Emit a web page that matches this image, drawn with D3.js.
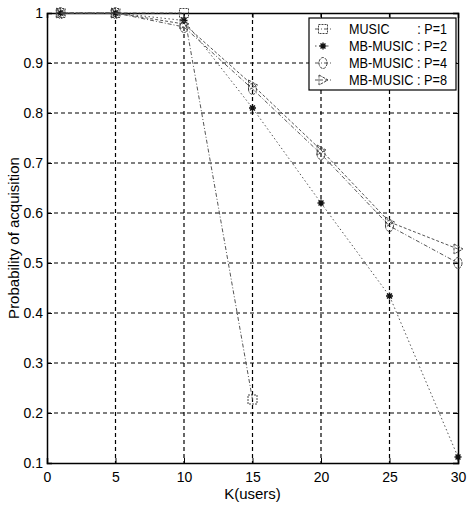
<!DOCTYPE html>
<html><head><meta charset="utf-8">
<script src="https://cdn.jsdelivr.net/npm/d3@7"></script>
<style>
html,body{margin:0;padding:0;background:#fff;}
svg{display:block;}
text{font-family:"Liberation Sans Narrow","Liberation Sans",Arial,sans-serif;fill:#000;}
</style></head>
<body>
<svg id="chart" width="467" height="508"></svg>
<script>
const kValues = [1, 5, 10, 15, 20, 25, 30];
const musicP1 = [1.0, 1.0, 1.0, 0.227];
const mbMusicP2 = [1.0, 1.0, 0.985, 0.81, 0.62, 0.434, 0.112];
const mbMusicP4 = [1.0, 1.0, 0.972, 0.848, 0.718, 0.574, 0.50];
const mbMusicP8 = [1.0, 1.0, 0.978, 0.856, 0.726, 0.582, 0.528];
const xTicks = [0, 5, 10, 15, 20, 25, 30];
const yTicks = [0.1, 0.2, 0.3, 0.4, 0.5, 0.6, 0.7, 0.8, 0.9, 1];
const legendLabels = ["MUSIC\u00a0\u00a0\u00a0\u00a0\u00a0\u00a0\u00a0\u00a0: P=1", "MB-MUSIC : P=2", "MB-MUSIC : P=4", "MB-MUSIC : P=8"];

const svg = d3.select("#chart");
const L = 47, R = 458, T = 13, B = 463;
const x = d3.scaleLinear().domain([0, 30]).range([L, R]);
const y = d3.scaleLinear().domain([0.1, 1]).range([B, T]);

// grid
const g = svg.append("g");
g.selectAll(".vg").data(xTicks.slice(1, -1)).enter().append("line")
  .attr("x1", d => x(d)).attr("x2", d => x(d)).attr("y1", T).attr("y2", B)
  .attr("stroke", "#000").attr("stroke-width", 1.2).attr("stroke-dasharray", "4,3");
g.selectAll(".hg").data(yTicks.slice(1, -1)).enter().append("line")
  .attr("y1", d => y(d)).attr("y2", d => y(d)).attr("x1", L).attr("x2", R)
  .attr("stroke", "#000").attr("stroke-width", 1.2).attr("stroke-dasharray", "4,3");

// axes
const xAxis = d3.axisBottom(x).tickValues(xTicks).tickSize(-5).tickPadding(9).tickFormat(d3.format("d"));
const yAxis = d3.axisLeft(y).tickValues(yTicks).tickSize(-5).tickPadding(4).tickFormat(d => d === 1 ? "1" : d3.format(".1f")(d));
svg.append("g").attr("transform", `translate(0,${B})`).call(xAxis);
svg.append("g").attr("transform", `translate(${L},0)`).call(yAxis);
svg.append("g").attr("transform", `translate(0,${T})`).call(d3.axisTop(x).tickValues(xTicks).tickSize(-5).tickFormat(""));
svg.append("g").attr("transform", `translate(${R},0)`).call(d3.axisRight(y).tickValues(yTicks).tickSize(-5).tickFormat(""));
svg.selectAll(".domain").attr("stroke", "#000").attr("stroke-width", 1.5);
svg.selectAll(".tick line").attr("stroke", "#000");
svg.selectAll(".tick text").style("font-size", "14px").style("font-family", "'Liberation Sans Narrow','Liberation Sans',Arial,sans-serif");

// labels
svg.append("text").attr("x", (L + R) / 2).attr("y", 499).attr("text-anchor", "middle")
  .style("font-size", "15px").text("K(users)");
svg.append("text").attr("transform", `translate(19,${(T + B) / 2}) rotate(-90)`).attr("text-anchor", "middle")
  .style("font-size", "15px").text("Probability of acquisition");

// series
const series = [
  {vals: musicP1, dash: "4,2,1,2", sym: "square"},
  {vals: mbMusicP2, dash: "1.5,2.5", sym: "star"},
  {vals: mbMusicP4, dash: "4,2,1,2", sym: "circle"},
  {vals: mbMusicP8, dash: "3,2", sym: "tri"}
];
function drawMarker(sel, sym, cx, cy) {
  if (sym === "square") {
    sel.append("rect").attr("x", cx - 4.5).attr("y", cy - 4.5).attr("width", 9).attr("height", 9)
      .attr("fill", "none").attr("stroke", "#444").attr("stroke-width", 1).attr("stroke-dasharray", "2,1");
  } else if (sym === "star") {
    const p = d3.path();
    for (let a = 0; a < 4; a++) {
      const ang = a * Math.PI / 4;
      p.moveTo(cx - 3.5 * Math.cos(ang), cy - 3.5 * Math.sin(ang));
      p.lineTo(cx + 3.5 * Math.cos(ang), cy + 3.5 * Math.sin(ang));
    }
    sel.append("path").attr("d", p.toString()).attr("stroke", "#111").attr("stroke-width", 1.4);
  } else if (sym === "circle") {
    sel.append("ellipse").attr("cx", cx).attr("cy", cy).attr("rx", 4).attr("ry", 5.5)
      .attr("fill", "none").attr("stroke", "#444").attr("stroke-width", 1).attr("stroke-dasharray", "3,1");
  } else {
    const p = d3.path();
    p.moveTo(cx - 4, cy - 5); p.lineTo(cx + 5, cy); p.lineTo(cx - 4, cy + 5); p.closePath();
    sel.append("path").attr("d", p.toString()).attr("fill", "none").attr("stroke", "#444")
      .attr("stroke-width", 1).attr("stroke-dasharray", "3,1");
  }
}
const line = d3.line().x(d => x(d[0])).y(d => y(d[1]));
series.forEach(s => {
  const pts = s.vals.map((v, i) => [kValues[i], v]);
  svg.append("path").attr("d", line(pts)).attr("fill", "none").attr("stroke", "#555")
    .attr("stroke-width", 1).attr("stroke-dasharray", s.dash);
  const mg = svg.append("g");
  pts.forEach(p => drawMarker(mg, s.sym, x(p[0]), y(p[1])));
});

// legend
const lx = 309, ly = 18, lw = 147, lh = 72;
svg.append("rect").attr("x", lx).attr("y", ly).attr("width", lw).attr("height", lh)
  .attr("fill", "#fff").attr("stroke", "#000").attr("stroke-width", 1.2);
series.forEach((s, i) => {
  const yy = ly + 11 + i * 17;
  svg.append("line").attr("x1", lx + 6).attr("x2", lx + 22).attr("y1", yy).attr("y2", yy)
    .attr("stroke", "#555").attr("stroke-dasharray", s.dash);
  drawMarker(svg.append("g"), s.sym, lx + 14, yy);
  svg.append("text").attr("x", lx + 40).attr("y", yy + 5).style("font-size", "15px")
    .attr("textLength", 98).attr("lengthAdjust", "spacingAndGlyphs").text(legendLabels[i]);
});
</script>
</body></html>
